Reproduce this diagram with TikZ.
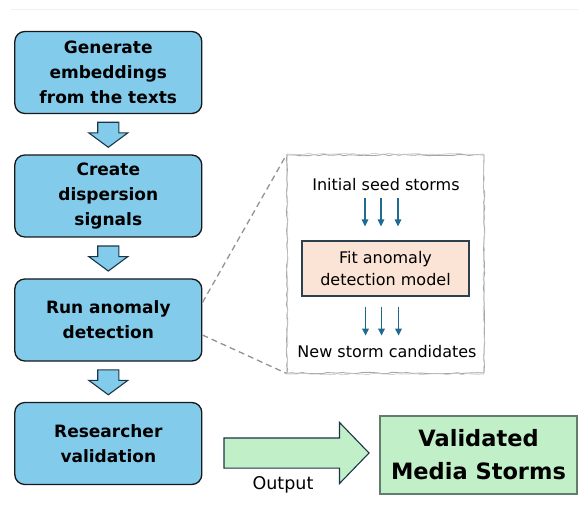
\documentclass[tikz,border=0pt]{standalone}
\usepackage{fontspec}
\setmainfont{DejaVu Sans}
\usetikzlibrary{shapes.arrows,arrows.meta,calc,decorations.pathmorphing}

\definecolor{boxblu}{HTML}{83CBEB}
\definecolor{bordoblu}{HTML}{1B3548}
\definecolor{verdechiaro}{HTML}{C1F0C8}
\definecolor{bordoverde}{HTML}{627D6C}
\definecolor{pesca}{HTML}{FBE3D6}
\definecolor{bordopesca}{HTML}{2D4050}
\definecolor{frecciablu}{HTML}{1E6A90}

\tikzset{
  passo/.style={draw=black!90, line width=1.3pt, fill=boxblu, rounded corners=10pt,
    minimum width=187pt, minimum height=82pt, align=center, inner sep=0pt,
    font=\fontsize{17}{25}\selectfont\bfseries},
  frecciablocco/.style={single arrow, draw=bordoblu, line width=1.1pt, fill=boxblu,
    inner xsep=0pt, inner ysep=10pt, minimum width=38pt, minimum height=25pt,
    single arrow head extend=9pt, single arrow tip angle=107, rotate=-90, anchor=tail},
  testo/.style={inner sep=0pt, align=center, font=\fontsize{16}{21.5}\selectfont},
  frecciasottile/.style={-{Triangle[length=7pt,width=6.5pt]}, draw=frecciablu, line width=1.4pt},
  tratteggio/.style={draw=gray!85, line width=1.3pt, dash pattern=on 6pt off 4pt},
  schizzo/.style={decorate, decoration={random steps, segment length=5pt, amplitude=0.8pt}},
}

\begin{document}
\begin{tikzpicture}[x=1pt,y=-1pt]
  \useasboundingbox (0,0) rectangle (578,526);

  % Riga in alto
  \draw[gray!12, line width=0.8pt] (11,9) -- (578,9);

  % Passi a sinistra
  \node[passo] (genera) at (108.3,72.5) {Generate\\embeddings\\from the texts};
  \node[passo] (disp) at (108.3,196) {Create\\dispersion\\signals};
  \node[passo] (anomalia) at (108.3,320) {Run anomaly\\detection};
  \node[passo] (ricerca) at (108.3,443.5) {Researcher\\validation};

  % Frecce tra i passi
  \foreach \a/\b in {genera/disp, disp/anomalia, anomalia/ricerca}
    \node[frecciablocco] (f-\a) at ($(\a.south)!0.5!(\b.north)+(0,-12.5)$) {};

  % Riquadro del modello
  \node[draw=gray!70, line width=0.9pt, minimum width=197pt, minimum height=218pt, schizzo]
    (pannello) at (385.5,264) {};
  \draw[gray!45, line width=0.6pt, schizzo] ([shift={(0.6,-0.6)}]pannello.north west)
    rectangle ([shift={(-0.6,0.6)}]pannello.south east);

  \node[testo] (semi) at (386,185) {Initial seed storms};
  \node[testo, draw=bordopesca, line width=1.2pt, fill=pesca, minimum width=167pt,
    minimum height=55pt] (modello) at (385.5,268.5) {Fit anomaly\\detection model};
  \node[testo] (candidati) at (387,352) {New storm candidates};

  \foreach \dx in {-21,-5,12}
    \draw[frecciasottile] ($(semi.south)+(\dx,7)$) -- ++(0,28);
  \foreach \dx in {-20,-4,13}
    \draw[frecciasottile] ($(modello.south)+(\dx,10)$) -- ++(0,29);

  % Linee tratteggiate
  \draw[tratteggio] ($(anomalia.north east)!0.29!(anomalia.south east)$) -- (pannello.north west);
  \draw[tratteggio] ($(anomalia.north east)!0.68!(anomalia.south east)$) -- (pannello.south west);

  % Uscita
  \node[single arrow, draw=bordoblu, line width=1.1pt, fill=verdechiaro,
    inner xsep=0pt, inner ysep=14.5pt, minimum width=60pt, minimum height=145pt,
    single arrow head extend=15.5pt, single arrow tip angle=92, anchor=tail]
    (uscita) at ($(ricerca.east)+(21,9.5)$) {};
  \node[testo, font=\fontsize{17.5}{20}\selectfont] (etichetta) at (283,485) {Output};
  \node[draw=bordoverde, line width=1.6pt, fill=verdechiaro, minimum width=197pt,
    minimum height=78pt, inner sep=0pt, align=center,
    font=\fontsize{22.5}{33}\selectfont\bfseries] (media) at (478.5,455) {Validated\\Media Storms};
\end{tikzpicture}
\end{document}
